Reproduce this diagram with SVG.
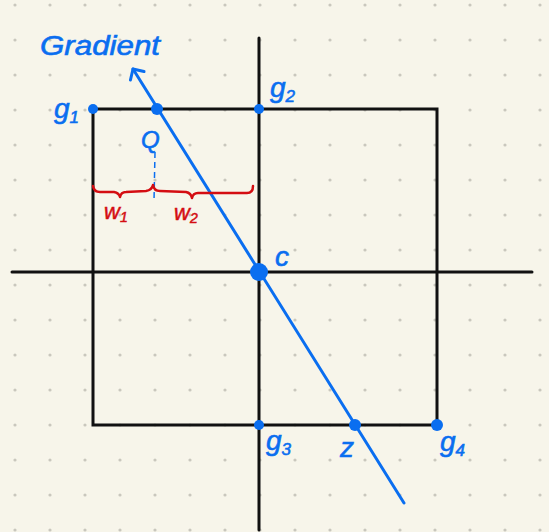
<svg xmlns="http://www.w3.org/2000/svg" width="549" height="532" viewBox="0 0 549 532">
<defs>
<pattern id="grid" x="15" y="5" width="35" height="35" patternUnits="userSpaceOnUse">
<circle cx="0" cy="0" r="1.6" fill="#c9c7bd"/>
<circle cx="35" cy="0" r="1.6" fill="#c9c7bd"/>
<circle cx="0" cy="35" r="1.6" fill="#c9c7bd"/>
<circle cx="35" cy="35" r="1.6" fill="#c9c7bd"/>
</pattern>
<marker id="arrow" viewBox="0 0 20 20" refX="10" refY="10" markerWidth="20" markerHeight="20" markerUnits="userSpaceOnUse" orient="auto">
<path d="M2,2 L10,10 L2,18" fill="none" stroke="#0a6ef0" stroke-width="3" stroke-linecap="round" stroke-linejoin="round"/>
</marker>
</defs>
<style>
.ax{stroke:#111;stroke-width:3;fill:none;stroke-linecap:round}
.bl{fill:#0a6ef0}
.lbl{font-family:"Liberation Sans",sans-serif;font-style:italic;fill:#0a6ef0;stroke:#0a6ef0;stroke-width:0.6}
.red{font-family:"Liberation Sans",sans-serif;font-style:italic;fill:#d40d12;stroke:#d40d12;stroke-width:0.5}
</style>
<rect width="549" height="532" fill="#f7f5ea"/>
<rect width="549" height="532" fill="url(#grid)"/>
<g id="connectors">
<line class="ax" x1="12" y1="272" x2="532" y2="272"/>
<line class="ax" x1="259" y1="38" x2="259" y2="530"/>
<path class="ax" d="M93,109 H437 V425 H93 Z"/>
<line x1="404" y1="503" x2="133" y2="69" stroke="#0a6ef0" stroke-width="3" stroke-linecap="round" marker-end="url(#arrow)"/>
<line x1="155" y1="152" x2="154" y2="201" stroke="#0a6ef0" stroke-width="1.5" stroke-dasharray="6,4"/>
<path d="M93,186 Q94,192 100,192 L114,192 Q119,193 120,197 Q121,192 126,192 L146,191 Q152,190 153,185 Q154,191 160,191 L186,192 Q191,193 192,198 Q193,193 198,193 L247,193 Q253,193 253,186" fill="none" stroke="#d40d12" stroke-width="2.5" stroke-linecap="round" stroke-linejoin="round"/>
</g>
<g id="gradient"><text class="lbl" x="40" y="55" font-size="27" textLength="120" lengthAdjust="spacingAndGlyphs">Gradient</text></g>
<g id="g1"><circle class="bl" cx="93" cy="109" r="5"/><text class="lbl" x="54" y="118" font-size="28">g<tspan font-size="17" dy="5">1</tspan></text></g>
<g id="Q"><circle class="bl" cx="157" cy="109" r="6"/><text class="lbl" x="141" y="148" font-size="24">Q</text></g>
<g id="g2"><circle class="bl" cx="259" cy="109" r="5"/><text class="lbl" x="270" y="97" font-size="28">g<tspan font-size="17" dy="5">2</tspan></text></g>
<g id="C"><circle class="bl" cx="259" cy="272" r="9"/><text class="lbl" x="275" y="266" font-size="28">c</text></g>
<g id="g3"><circle class="bl" cx="259" cy="425" r="5"/><text class="lbl" x="266" y="450" font-size="28">g<tspan font-size="17" dy="5">3</tspan></text></g>
<g id="Z"><circle class="bl" cx="355" cy="425" r="6"/><text class="lbl" x="340" y="457" font-size="28">z</text></g>
<g id="g4"><circle class="bl" cx="437" cy="425" r="6"/><text class="lbl" x="440" y="451" font-size="28">g<tspan font-size="17" dy="5">4</tspan></text></g>
<g id="w1"><text class="red" x="104" y="219" font-size="22">w<tspan font-size="14" dy="3">1</tspan></text></g>
<g id="w2"><text class="red" x="174" y="220" font-size="22">w<tspan font-size="14" dy="3">2</tspan></text></g>
</svg>
